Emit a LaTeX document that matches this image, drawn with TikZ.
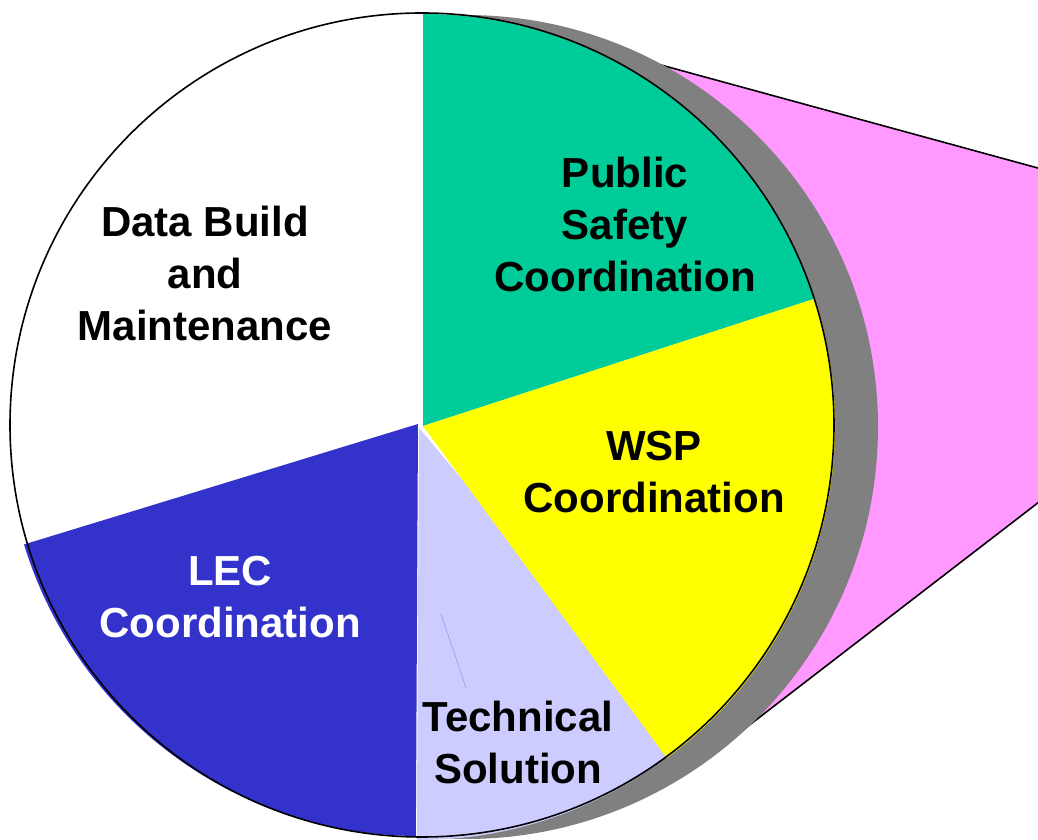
\documentclass[tikz,border=0pt]{standalone}
\usepackage{fontspec}
\setmainfont{Liberation Sans}
\definecolor{pgreen}{HTML}{00CC99}
\definecolor{pyellow}{HTML}{FFFF00}
\definecolor{plav}{HTML}{CCCCFF}
\definecolor{pblue}{HTML}{3333CC}
\definecolor{pgray}{HTML}{808080}
\definecolor{pmag}{HTML}{FF99FF}
\definecolor{pthin}{HTML}{9999EE}
\tikzset{
  lbl/.style={font=\fontsize{42}{52}\selectfont\bfseries, align=center, inner sep=0pt},
  edge/.style={draw=black, line width=1.6pt},
}
\begin{document}
\begin{tikzpicture}[x=1pt,y=1pt]
\useasboundingbox (0,0) rectangle (1038,840);
\clip (0,0) rectangle (1038,840);
% magenta zoom wedge
\fill[pmag] (650,778) -- (1100,655) -- (1100,385) -- (743,110) -- (466,413) -- cycle;
\draw[edge] (650,778) -- (1100,655);
\draw[edge] (743,110) -- (1100,385);
% shadow
\fill[pgray] (466,413) circle[radius=412];
% pie backdrop
\fill[white] (422,415) circle[radius=411];
% pie slices
\fill[white] (422,415) -- ++(90:412) arc[start angle=90, end angle=197, radius=412] -- cycle;
\fill[plav] (419,412) -- ++(-90.3:412) arc[start angle=-90.3, end angle=-50, radius=412] -- cycle;
\fill[pgreen] (423,414) -- ++(18:412) arc[start angle=18, end angle=90, radius=412] -- cycle;
\fill[pyellow] (423,414) -- ++(-53.7:412) arc[start angle=-53.7, end angle=18, radius=412] -- cycle;
\fill[pblue] (418,416) -- ++(197:412) arc[start angle=197, end angle=269.7, radius=412] -- cycle;
\draw[edge] (422,415) circle[radius=412];
\draw[pthin, line width=0.6pt] (441,226) -- (466,152);
% labels
\node[lbl] (dbm) at (205,567) {Data Build\\and\\Maintenance};
\node[lbl] (psc) at (625,616) {Public\\Safety\\Coordination};
\node[lbl] (wsp) at (654,368) {WSP\\Coordination};
\node[lbl, text=white] (lec) at (230,243) {LEC\\Coordination};
\node[lbl] (tec) at (518,98) {Technical\\Solution};
\end{tikzpicture}
\end{document}
